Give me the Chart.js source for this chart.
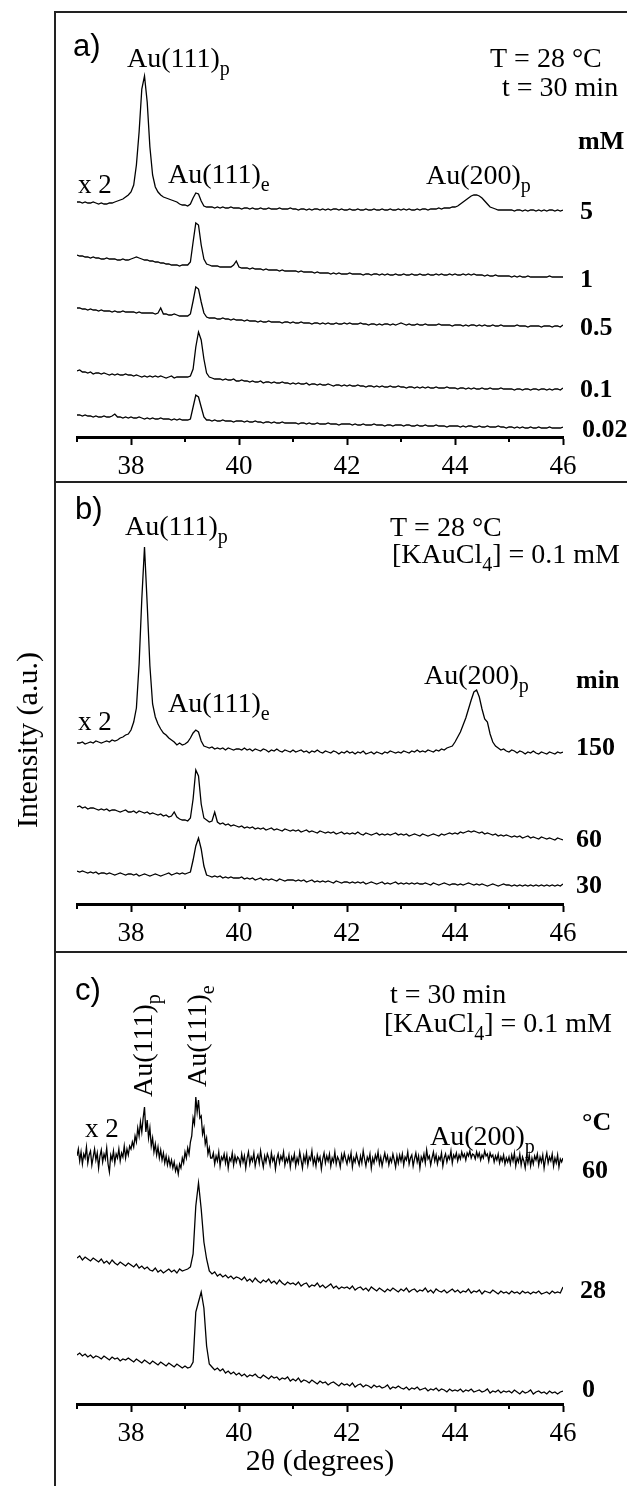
<!DOCTYPE html>
<html>
<head>
<meta charset="utf-8">
<script src="https://cdn.jsdelivr.net/npm/chart.js@4.4.1/dist/chart.umd.min.js"></script>
<style>
  body { margin: 0; background: #fff; }
  #page { position: relative; width: 627px; height: 1486px; overflow: hidden; background: #fff; }
  canvas { position: absolute; left: 0; }
  .rule { position: absolute; background: #222; }
</style>
</head>
<body>
<div id="page">
  <canvas id="panelA" width="627" height="470" style="top:12px"></canvas>
  <canvas id="panelB" width="627" height="470" style="top:482px"></canvas>
  <canvas id="panelC" width="627" height="534" style="top:952px"></canvas>
  <div class="rule" style="left:54px;top:11px;width:2px;height:1475px"></div>
  <div class="rule" style="left:54px;top:11px;width:573px;height:2px"></div>
  <div class="rule" style="left:54px;top:481px;width:573px;height:2px"></div>
  <div class="rule" style="left:54px;top:951px;width:573px;height:2px"></div>
</div>
<script>
// 2theta scan grid (degrees)
const twoTheta = [
  37, 37.05, 37.1, 37.15, 37.2, 37.25, 37.3, 37.35, 37.4, 37.45, 37.5, 37.55, 37.6, 37.65, 37.7, 37.75, 37.8, 37.85, 37.9, 37.95,
  38, 38.05, 38.1, 38.15, 38.2, 38.25, 38.3, 38.35, 38.4, 38.45, 38.5, 38.55, 38.6, 38.65, 38.7, 38.75, 38.8, 38.85, 38.9, 38.95,
  39, 39.05, 39.1, 39.15, 39.2, 39.25, 39.3, 39.35, 39.4, 39.45, 39.5, 39.55, 39.6, 39.65, 39.7, 39.75, 39.8, 39.85, 39.9, 39.95,
  40, 40.05, 40.1, 40.15, 40.2, 40.25, 40.3, 40.35, 40.4, 40.45, 40.5, 40.55, 40.6, 40.65, 40.7, 40.75, 40.8, 40.85, 40.9, 40.95,
  41, 41.05, 41.1, 41.15, 41.2, 41.25, 41.3, 41.35, 41.4, 41.45, 41.5, 41.55, 41.6, 41.65, 41.7, 41.75, 41.8, 41.85, 41.9, 41.95,
  42, 42.05, 42.1, 42.15, 42.2, 42.25, 42.3, 42.35, 42.4, 42.45, 42.5, 42.55, 42.6, 42.65, 42.7, 42.75, 42.8, 42.85, 42.9, 42.95,
  43, 43.05, 43.1, 43.15, 43.2, 43.25, 43.3, 43.35, 43.4, 43.45, 43.5, 43.55, 43.6, 43.65, 43.7, 43.75, 43.8, 43.85, 43.9, 43.95,
  44, 44.05, 44.1, 44.15, 44.2, 44.25, 44.3, 44.35, 44.4, 44.45, 44.5, 44.55, 44.6, 44.65, 44.7, 44.75, 44.8, 44.85, 44.9, 44.95,
  45, 45.05, 45.1, 45.15, 45.2, 45.25, 45.3, 45.35, 45.4, 45.45, 45.5, 45.55, 45.6, 45.65, 45.7, 45.75, 45.8, 45.85, 45.9, 45.95, 46
];
// finer grid used by the noisy 60 °C scan
const twoThetaFine = [
  37, 37.025, 37.05, 37.075, 37.1, 37.125, 37.15, 37.175, 37.2, 37.225, 37.25, 37.275, 37.3, 37.325, 37.35, 37.375, 37.4, 37.425, 37.45, 37.475,
  37.5, 37.525, 37.55, 37.575, 37.6, 37.625, 37.65, 37.675, 37.7, 37.725, 37.75, 37.775, 37.8, 37.825, 37.85, 37.875, 37.9, 37.925, 37.95, 37.975,
  38, 38.025, 38.05, 38.075, 38.1, 38.125, 38.15, 38.175, 38.2, 38.225, 38.25, 38.275, 38.3, 38.325, 38.35, 38.375, 38.4, 38.425, 38.45, 38.475,
  38.5, 38.525, 38.55, 38.575, 38.6, 38.625, 38.65, 38.675, 38.7, 38.725, 38.75, 38.775, 38.8, 38.825, 38.85, 38.875, 38.9, 38.925, 38.95, 38.975,
  39, 39.025, 39.05, 39.075, 39.1, 39.125, 39.15, 39.175, 39.2, 39.225, 39.25, 39.275, 39.3, 39.325, 39.35, 39.375, 39.4, 39.425, 39.45, 39.475,
  39.5, 39.525, 39.55, 39.575, 39.6, 39.625, 39.65, 39.675, 39.7, 39.725, 39.75, 39.775, 39.8, 39.825, 39.85, 39.875, 39.9, 39.925, 39.95, 39.975,
  40, 40.025, 40.05, 40.075, 40.1, 40.125, 40.15, 40.175, 40.2, 40.225, 40.25, 40.275, 40.3, 40.325, 40.35, 40.375, 40.4, 40.425, 40.45, 40.475,
  40.5, 40.525, 40.55, 40.575, 40.6, 40.625, 40.65, 40.675, 40.7, 40.725, 40.75, 40.775, 40.8, 40.825, 40.85, 40.875, 40.9, 40.925, 40.95, 40.975,
  41, 41.025, 41.05, 41.075, 41.1, 41.125, 41.15, 41.175, 41.2, 41.225, 41.25, 41.275, 41.3, 41.325, 41.35, 41.375, 41.4, 41.425, 41.45, 41.475,
  41.5, 41.525, 41.55, 41.575, 41.6, 41.625, 41.65, 41.675, 41.7, 41.725, 41.75, 41.775, 41.8, 41.825, 41.85, 41.875, 41.9, 41.925, 41.95, 41.975,
  42, 42.025, 42.05, 42.075, 42.1, 42.125, 42.15, 42.175, 42.2, 42.225, 42.25, 42.275, 42.3, 42.325, 42.35, 42.375, 42.4, 42.425, 42.45, 42.475,
  42.5, 42.525, 42.55, 42.575, 42.6, 42.625, 42.65, 42.675, 42.7, 42.725, 42.75, 42.775, 42.8, 42.825, 42.85, 42.875, 42.9, 42.925, 42.95, 42.975,
  43, 43.025, 43.05, 43.075, 43.1, 43.125, 43.15, 43.175, 43.2, 43.225, 43.25, 43.275, 43.3, 43.325, 43.35, 43.375, 43.4, 43.425, 43.45, 43.475,
  43.5, 43.525, 43.55, 43.575, 43.6, 43.625, 43.65, 43.675, 43.7, 43.725, 43.75, 43.775, 43.8, 43.825, 43.85, 43.875, 43.9, 43.925, 43.95, 43.975,
  44, 44.025, 44.05, 44.075, 44.1, 44.125, 44.15, 44.175, 44.2, 44.225, 44.25, 44.275, 44.3, 44.325, 44.35, 44.375, 44.4, 44.425, 44.45, 44.475,
  44.5, 44.525, 44.55, 44.575, 44.6, 44.625, 44.65, 44.675, 44.7, 44.725, 44.75, 44.775, 44.8, 44.825, 44.85, 44.875, 44.9, 44.925, 44.95, 44.975,
  45, 45.025, 45.05, 45.075, 45.1, 45.125, 45.15, 45.175, 45.2, 45.225, 45.25, 45.275, 45.3, 45.325, 45.35, 45.375, 45.4, 45.425, 45.45, 45.475,
  45.5, 45.525, 45.55, 45.575, 45.6, 45.625, 45.65, 45.675, 45.7, 45.725, 45.75, 45.775, 45.8, 45.825, 45.85, 45.875, 45.9, 45.925, 45.95, 45.975, 46
];
const majorTicks = [38, 40, 42, 44, 46];
const minorTicks = [37, 39, 41, 43, 45];

// a) KAuCl4 concentration series (mM), intensity a.u. incl. stacking offset
const concLabels = ['5', '1', '0.5', '0.1', '0.02'];
const conc5 = [
  235, 235, 234, 235, 234, 234, 235, 234, 233, 234, 233, 233, 234, 234, 235, 236, 237, 238, 240, 242,
  245, 252, 272, 305, 348, 361, 335, 290, 262, 250, 245, 242, 240, 239, 238, 237, 236, 235, 233, 232,
  232, 231, 233, 239, 244, 243, 236, 231, 230, 230, 230, 229, 230, 229, 230, 229, 229, 230, 229, 229,
  229, 228, 229, 229, 228, 229, 228, 228, 229, 228, 228, 229, 228, 228, 228, 229, 228, 228, 228, 229,
  228, 228, 227, 228, 228, 227, 228, 227, 228, 228, 227, 228, 227, 228, 227, 228, 228, 227, 228, 227,
  227, 228, 227, 227, 228, 227, 227, 228, 227, 227, 228, 227, 227, 228, 227, 227, 228, 227, 227, 228,
  227, 228, 227, 228, 227, 227, 228, 227, 228, 228, 227, 228, 228, 228, 229, 228, 229, 229, 229, 230,
  230, 231, 233, 235, 237, 239, 241, 242, 242, 241, 239, 236, 233, 230, 229, 228, 227, 227, 227, 227,
  227, 227, 226, 227, 227, 226, 227, 226, 227, 227, 226, 227, 226, 227, 226, 227, 227, 226, 227, 226, 227
];
const conc1 = [
  182, 181, 181, 180, 180, 179, 180, 179, 179, 178, 178, 179, 178, 178, 178, 177, 177, 178, 177, 177,
  178, 179, 180, 179, 178, 177, 177, 176, 176, 175, 175, 174, 174, 173, 173, 172, 172, 172, 171, 172,
  172, 172, 175, 195, 214, 212, 192, 178, 173, 172, 171, 171, 171, 170, 170, 170, 170, 170, 172, 176,
  170, 169, 169, 169, 168, 169, 168, 168, 168, 167, 168, 167, 167, 167, 167, 166, 167, 166, 166, 166,
  166, 166, 165, 166, 165, 165, 165, 165, 164, 165, 164, 164, 164, 164, 163, 164, 163, 164, 163, 163,
  163, 164, 163, 163, 163, 163, 162, 163, 163, 162, 163, 163, 162, 163, 162, 163, 162, 162, 163, 162,
  162, 163, 162, 162, 163, 162, 162, 163, 162, 162, 163, 162, 162, 163, 162, 163, 162, 162, 163, 162,
  163, 162, 162, 163, 162, 163, 162, 163, 162, 162, 162, 161, 162, 161, 161, 162, 161, 161, 161, 161,
  161, 160, 161, 160, 161, 160, 160, 161, 160, 160, 160, 160, 160, 160, 160, 161, 160, 160, 160, 160, 160
];
const conc05 = [
  129, 129, 128, 128, 127, 128, 127, 127, 126, 127, 126, 126, 126, 125, 126, 125, 125, 126, 125, 125,
  125, 125, 124, 125, 124, 124, 124, 124, 124, 123, 124, 129, 123, 123, 122, 122, 123, 122, 121, 121,
  121, 121, 123, 136, 150, 148, 135, 124, 120, 119, 119, 119, 118, 118, 119, 118, 118, 117, 118, 117,
  117, 117, 116, 117, 116, 116, 116, 115, 116, 115, 115, 116, 115, 115, 115, 115, 114, 115, 115, 114,
  115, 114, 114, 115, 114, 114, 114, 113, 114, 114, 113, 114, 113, 114, 113, 113, 114, 113, 113, 114,
  113, 114, 113, 113, 113, 114, 113, 113, 112, 113, 113, 112, 113, 112, 113, 113, 112, 113, 112, 113,
  114, 113, 112, 113, 112, 112, 113, 112, 112, 113, 112, 112, 112, 112, 113, 112, 112, 112, 112, 111,
  112, 112, 112, 111, 112, 111, 112, 112, 111, 112, 111, 112, 111, 111, 112, 111, 111, 112, 111, 111,
  111, 111, 111, 112, 111, 111, 111, 110, 111, 111, 111, 111, 110, 111, 111, 111, 110, 111, 111, 110, 112
];
const conc01 = [
  66, 67, 65, 65, 64, 65, 63, 64, 64, 63, 64, 63, 62, 63, 62, 63, 62, 62, 63, 62,
  62, 61, 62, 61, 60, 61, 60, 61, 60, 61, 60, 61, 60, 59, 60, 61, 59, 60, 60, 60,
  60, 60, 61, 68, 90, 105, 97, 78, 64, 60, 59, 58, 58, 58, 57, 58, 57, 57, 58, 56,
  56, 57, 56, 56, 55, 56, 55, 55, 56, 54, 55, 55, 54, 55, 54, 54, 55, 54, 54, 53,
  54, 53, 54, 53, 53, 54, 52, 53, 53, 52, 53, 52, 52, 53, 52, 51, 52, 52, 51, 52,
  51, 52, 51, 51, 52, 51, 51, 50, 51, 51, 50, 51, 50, 51, 50, 50, 51, 50, 50, 51,
  50, 50, 49, 50, 50, 49, 50, 49, 50, 49, 50, 49, 49, 50, 49, 49, 49, 50, 49, 49,
  49, 48, 49, 49, 48, 49, 48, 49, 48, 48, 49, 48, 48, 49, 48, 48, 48, 49, 48, 48,
  48, 48, 47, 48, 48, 47, 48, 48, 47, 48, 48, 47, 48, 48, 47, 48, 47, 48, 48, 47, 49
];
const conc002 = [
  22, 22, 21, 22, 21, 21, 20, 21, 20, 20, 21, 20, 20, 21, 23, 20, 20, 19, 20, 19,
  20, 19, 19, 20, 19, 18, 19, 18, 19, 18, 18, 19, 18, 18, 18, 17, 18, 17, 18, 17,
  17, 17, 18, 30, 42, 40, 30, 20, 17, 17, 16, 17, 16, 16, 17, 16, 16, 16, 15, 16,
  16, 16, 15, 16, 15, 15, 16, 15, 15, 14, 15, 15, 14, 15, 14, 14, 15, 14, 14, 14,
  14, 14, 13, 14, 14, 13, 14, 13, 13, 14, 13, 13, 13, 14, 13, 13, 13, 12, 13, 13,
  13, 13, 12, 13, 12, 12, 13, 12, 12, 12, 13, 12, 12, 12, 11, 12, 12, 11, 12, 12,
  12, 11, 12, 12, 11, 11, 12, 11, 11, 12, 11, 11, 11, 12, 11, 11, 11, 10, 11, 11,
  11, 11, 10, 11, 10, 11, 11, 10, 10, 11, 10, 10, 11, 10, 10, 10, 11, 10, 10, 9,
  10, 10, 9, 10, 9, 10, 9, 9, 10, 9, 9, 10, 9, 9, 9, 10, 9, 9, 9, 9, 10
];

// b) deposition time series (min)
const timeLabels = ['150', '60', '30'];
const time150 = [
  161, 161, 162, 160, 161, 162, 161, 163, 162, 161, 162, 163, 162, 164, 163, 164, 166, 167, 169, 170,
  174, 182, 196, 240, 305, 357, 300, 238, 200, 187, 180, 175, 171, 169, 166, 164, 162, 159, 161, 159,
  160, 162, 166, 171, 174, 172, 163, 158, 157, 156, 157, 155, 156, 155, 156, 154, 156, 155, 154, 155,
  155, 154, 156, 154, 155, 153, 155, 154, 153, 155, 154, 152, 154, 153, 155, 153, 152, 154, 153, 152,
  154, 152, 153, 154, 152, 153, 151, 153, 152, 154, 152, 151, 153, 152, 151, 153, 152, 150, 152, 151,
  153, 151, 152, 150, 152, 151, 153, 150, 151, 152, 150, 152, 151, 150, 152, 151, 153, 152, 151, 152,
  151, 153, 152, 151, 153, 152, 154, 152, 153, 152, 154, 153, 152, 154, 153, 155, 154, 156, 157, 158,
  162, 167, 172, 179, 186, 195, 204, 212, 214, 207, 195, 185, 182, 170, 162, 158, 156, 154, 155, 153,
  152, 154, 153, 151, 153, 152, 150, 152, 151, 153, 151, 150, 152, 151, 150, 152, 151, 150, 152, 151, 152
];
const time60 = [
  97, 98, 96, 97, 95, 96, 96, 95, 94, 95, 94, 95, 93, 94, 94, 93, 92, 93, 94, 92,
  92, 93, 91, 93, 92, 91, 92, 90, 91, 90, 89, 90, 88, 89, 87, 88, 92, 87, 85, 84,
  84, 83, 86, 105, 134, 128, 100, 86, 84, 82, 83, 92, 82, 80, 81, 79, 80, 78, 79, 78,
  77, 78, 76, 77, 76, 77, 75, 76, 75, 76, 74, 75, 76, 74, 75, 74, 73, 75, 74, 73,
  74, 73, 74, 72, 73, 74, 72, 73, 72, 71, 73, 72, 71, 72, 71, 72, 70, 71, 72, 70,
  71, 70, 71, 70, 72, 70, 69, 71, 70, 69, 70, 71, 69, 70, 69, 70, 69, 70, 71, 69,
  70, 69, 70, 68, 69, 70, 69, 68, 70, 69, 68, 69, 70, 69, 68, 70, 69, 70, 71, 70,
  71, 70, 72, 71, 72, 73, 72, 73, 72, 71, 72, 70, 71, 70, 69, 70, 68, 69, 68, 69,
  68, 67, 68, 67, 68, 66, 67, 68, 66, 67, 66, 65, 67, 66, 65, 66, 65, 64, 66, 65, 64
];
const time30 = [
  33, 32, 33, 32, 31, 32, 31, 32, 30, 31, 31, 30, 31, 30, 29, 30, 31, 30, 29, 30,
  30, 29, 30, 28, 29, 30, 29, 28, 29, 30, 29, 28, 29, 30, 31, 29, 30, 31, 30, 31,
  30, 31, 32, 44, 58, 66, 55, 38, 29, 28, 27, 28, 27, 28, 26, 27, 26, 27, 26, 26,
  26, 27, 25, 26, 25, 26, 24, 25, 26, 24, 25, 24, 25, 24, 23, 25, 24, 23, 24, 24,
  24, 23, 24, 23, 24, 22, 23, 24, 22, 23, 22, 23, 22, 23, 22, 21, 23, 22, 21, 22,
  22, 21, 22, 21, 22, 21, 22, 20, 21, 22, 21, 20, 21, 22, 20, 21, 20, 21, 22, 20,
  21, 20, 21, 20, 21, 20, 21, 20, 20, 21, 20, 19, 21, 20, 19, 20, 21, 20, 19, 20,
  20, 19, 20, 19, 20, 21, 20, 19, 20, 19, 20, 19, 18, 19, 20, 19, 18, 19, 20, 19,
  19, 18, 19, 18, 19, 18, 19, 18, 19, 18, 19, 18, 19, 18, 19, 18, 19, 18, 19, 18, 20
];

// c) bath temperature series (°C); the 60 °C scan is on the fine grid
const tempLabels = ['60', '28', '0'];
const temp60 = [
  248, 255, 243, 252, 240, 250, 246, 257, 241, 249, 253, 239, 247, 255, 244, 251, 236, 248, 254, 242,
  250, 245, 256, 240, 232, 249, 244, 253, 241, 250, 246, 255, 243, 251, 247, 258, 246, 255, 249, 258,
  255, 262, 257, 268, 262, 276, 268, 282, 272, 286, 297, 272, 284, 266, 276, 258, 266, 252, 260, 249,
  257, 246, 254, 244, 251, 241, 248, 239, 246, 238, 244, 236, 242, 233, 238, 230, 240, 236, 246, 241,
  252, 246, 256, 250, 262, 268, 286, 280, 307, 292, 304, 286, 288, 270, 276, 260, 266, 250, 256, 246,
  246, 251, 240, 248, 243, 252, 238, 247, 244, 250, 241, 249, 236, 246, 243, 251, 239, 248, 242, 247,
  245, 239, 250, 242, 248, 236, 246, 252, 240, 247, 243, 251, 238, 245, 249, 241, 253, 244, 237, 248,
  242, 250, 246, 239, 251, 243, 247, 235, 245, 250, 241, 248, 244, 252, 239, 246, 242, 249, 237, 247,
  243, 250, 238, 246, 241, 252, 244, 236, 248, 242, 251, 239, 247, 244, 253, 240, 246, 238, 249, 243,
  247, 235, 245, 251, 241, 248, 243, 250, 238, 246, 242, 252, 240, 247, 244, 237, 249, 243, 251, 245,
  240, 248, 243, 251, 237, 246, 242, 250, 244, 239, 248, 241, 253, 245, 238, 247, 243, 250, 236, 246,
  241, 249, 244, 252, 240, 247, 238, 245, 251, 243, 248, 239, 246, 242, 250, 244, 237, 248, 241, 249,
  243, 250, 239, 247, 244, 252, 240, 246, 249, 238, 245, 251, 242, 248, 236, 247, 243, 250, 241, 254,
  245, 248, 239, 246, 252, 243, 249, 240, 247, 244, 251, 238, 246, 250, 242, 248, 245, 253, 241, 249,
  246, 251, 243, 249, 245, 252, 247, 250, 244, 251, 248, 253, 246, 250, 249, 245, 252, 247, 251, 244,
  249, 246, 253, 248, 250, 243, 251, 247, 249, 242, 248, 244, 250, 241, 247, 243, 249, 240, 246, 242,
  247, 240, 249, 243, 251, 238, 246, 242, 250, 239, 247, 243, 236, 248, 241, 249, 238, 246, 240, 248,
  244, 250, 239, 247, 242, 249, 236, 245, 251, 241, 247, 243, 250, 238, 246, 241, 249, 237, 245, 242, 246
];
const temp28 = [
  146, 148, 144, 147, 145, 143, 146, 144, 142, 145, 141, 143, 140, 144, 141, 139, 142, 140, 138, 141,
  139, 137, 140, 136, 138, 135, 137, 134, 133, 136, 132, 134, 131, 133, 135, 132, 134, 131, 135, 133,
  134, 135, 137, 150, 198, 221, 195, 162, 145, 133, 130, 132, 128, 130, 127, 129, 126, 128, 125, 127,
  126, 124, 127, 123, 125, 122, 126, 123, 121, 124, 122, 125, 121, 123, 120, 124, 121, 119, 122, 120,
  121, 119, 122, 118, 120, 121, 117, 119, 118, 121, 117, 119, 116, 118, 120, 116, 118, 115, 117, 116,
  117, 115, 118, 114, 116, 117, 114, 116, 113, 117, 115, 113, 116, 114, 112, 115, 113, 116, 114, 112,
  115, 113, 116, 112, 114, 115, 112, 114, 113, 116, 112, 114, 111, 115, 113, 112, 114, 111, 113, 115,
  112, 114, 111, 113, 112, 115, 111, 113, 112, 114, 110, 113, 112, 111, 114, 112, 110, 113, 111, 112,
  110, 113, 111, 112, 110, 113, 111, 112, 110, 112, 111, 113, 110, 111, 112, 110, 113, 111, 112, 111, 117
];
const temp0 = [
  49, 51, 48, 50, 47, 49, 46, 48, 47, 45, 48, 46, 44, 47, 45, 46, 43, 45, 44, 46,
  44, 42, 45, 43, 41, 44, 42, 40, 43, 41, 39, 42, 40, 38, 41, 39, 37, 40, 38, 36,
  38, 36, 37, 42, 92, 102, 112, 96, 58, 40, 37, 34, 36, 33, 35, 31, 33, 30, 32, 29,
  31, 28, 30, 27, 29, 28, 30, 27, 26, 29, 27, 25, 28, 26, 27, 24, 26, 25, 27, 23,
  25, 23, 26, 22, 24, 23, 21, 24, 22, 20, 23, 21, 22, 19, 21, 22, 20, 18, 21, 19,
  20, 18, 21, 17, 19, 20, 17, 19, 18, 16, 19, 17, 18, 16, 17, 19, 15, 17, 16, 18,
  16, 15, 17, 14, 16, 15, 17, 14, 15, 16, 13, 15, 14, 16, 13, 15, 14, 12, 15, 13,
  14, 13, 15, 12, 14, 13, 15, 12, 13, 14, 12, 13, 15, 11, 13, 12, 14, 11, 13, 12,
  13, 11, 14, 12, 10, 13, 11, 12, 14, 10, 12, 13, 11, 12, 10, 13, 11, 12, 10, 12, 13
];

const serif = '"Liberation Serif", "Times New Roman", serif';
const sans = '"Liberation Sans", Arial, sans-serif';

// text with "_x" meaning subscript x
function richParts(text) {
  const out = [];
  text.split('_').forEach((part, k) => {
    if (k > 0) {
      out.push({ t: part[0], sub: true });
      part = part.slice(1);
    }
    if (part) out.push({ t: part, sub: false });
  });
  return out;
}

function drawRich(ctx, n, top) {
  const size = n.size || 28;
  const fam = n.sans ? sans : serif;
  const weight = n.bold ? 'bold ' : '';
  const parts = richParts(n.text);
  const fontFor = p => weight + (p.sub ? Math.round(size * 0.7) : size) + 'px ' + fam;
  let width = 0;
  parts.forEach(p => { ctx.font = fontFor(p); width += ctx.measureText(p.t).width; });
  ctx.save();
  ctx.translate(n.x, n.y - top);
  if (n.rotate) ctx.rotate(n.rotate);
  ctx.fillStyle = '#000';
  ctx.textBaseline = 'alphabetic';
  ctx.textAlign = 'left';
  let cx = n.center ? -width / 2 : 0;
  parts.forEach(p => {
    ctx.font = fontFor(p);
    ctx.fillText(p.t, cx, p.sub ? size * 0.27 : 0);
    cx += ctx.measureText(p.t).width;
  });
  ctx.restore();
}

const annotate = {
  id: 'annotate',
  afterDraw(chart, args, opts) {
    const ctx = chart.ctx;
    const xs = chart.scales.x;
    ctx.save();
    ctx.strokeStyle = '#000';
    ctx.lineWidth = 2;
    minorTicks.forEach(v => {
      const px = Math.round(xs.getPixelForValue(v));
      ctx.beginPath();
      ctx.moveTo(px, xs.top);
      ctx.lineTo(px, xs.top + 5);
      ctx.stroke();
    });
    ctx.restore();
    opts.notes.forEach(n => drawRich(ctx, n, opts.top));
  }
};

// series: list of [xGrid, yValues]
function plotPanel(id, top, height, axisY, series, notes) {
  const yMax = axisY - top;
  const axisH = height - yMax;
  return new Chart(document.getElementById(id), {
    type: 'line',
    data: {
      datasets: series.map(([xs, ys]) => ({
        data: xs.map((x, i) => ({ x: x, y: ys[i] })),
        borderColor: '#000',
        borderWidth: 1.3,
        pointRadius: 0,
        tension: 0,
        fill: false
      }))
    },
    options: {
      responsive: false,
      animation: false,
      devicePixelRatio: 1,
      layout: { padding: { left: 77, right: 64, top: 0, bottom: 0 } },
      plugins: {
        legend: { display: false },
        tooltip: { enabled: false },
        annotate: { top: top, notes: notes }
      },
      scales: {
        x: {
          type: 'linear',
          min: 37,
          max: 46,
          afterBuildTicks: s => { s.ticks = majorTicks.map(v => ({ value: v })); },
          afterFit: s => { s.height = axisH; },
          grid: { display: true, drawOnChartArea: false, drawTicks: true, tickLength: 8, tickWidth: 2, tickColor: '#000' },
          border: { display: true, color: '#000', width: 3 },
          ticks: { color: '#000', padding: 6, autoSkip: false, maxRotation: 0, font: { family: serif, size: 27 } }
        },
        y: { display: false, min: 0, max: yMax }
      }
    },
    plugins: [annotate]
  });
}

const up = -Math.PI / 2;

plotPanel('panelA', 12, 470, 437,
  [[twoTheta, conc5], [twoTheta, conc1], [twoTheta, conc05], [twoTheta, conc01], [twoTheta, conc002]], [
  { text: 'a)', x: 73, y: 56, size: 31, sans: true },
  { text: 'Au(111)_p', x: 127, y: 67 },
  { text: 'T = 28 °C', x: 490, y: 67 },
  { text: 't = 30 min', x: 502, y: 96 },
  { text: 'mM', x: 578, y: 149, bold: true, size: 26 },
  { text: 'x 2', x: 78, y: 193, size: 27 },
  { text: 'Au(111)_e', x: 168, y: 183 },
  { text: 'Au(200)_p', x: 426, y: 184 },
  { text: concLabels[0], x: 580, y: 219, bold: true, size: 26 },
  { text: concLabels[1], x: 580, y: 287, bold: true, size: 26 },
  { text: concLabels[2], x: 580, y: 335, bold: true, size: 26 },
  { text: concLabels[3], x: 580, y: 397, bold: true, size: 26 },
  { text: concLabels[4], x: 582, y: 437, bold: true, size: 26 }
]);

plotPanel('panelB', 482, 470, 904,
  [[twoTheta, time150], [twoTheta, time60], [twoTheta, time30]], [
  { text: 'b)', x: 75, y: 519, size: 31, sans: true },
  { text: 'Au(111)_p', x: 125, y: 535 },
  { text: 'T = 28 °C', x: 390, y: 536 },
  { text: '[KAuCl_4] = 0.1 mM', x: 392, y: 563 },
  { text: 'Au(200)_p', x: 424, y: 684 },
  { text: 'min', x: 576, y: 688, bold: true, size: 26 },
  { text: 'x 2', x: 78, y: 730, size: 27 },
  { text: 'Au(111)_e', x: 168, y: 712 },
  { text: timeLabels[0], x: 576, y: 755, bold: true, size: 26 },
  { text: timeLabels[1], x: 576, y: 847, bold: true, size: 26 },
  { text: timeLabels[2], x: 576, y: 893, bold: true, size: 26 },
  { text: 'Intensity (a.u.)', x: 37, y: 740, size: 30, rotate: up, center: true }
]);

plotPanel('panelC', 952, 534, 1404,
  [[twoThetaFine, temp60], [twoTheta, temp28], [twoTheta, temp0]], [
  { text: 'c)', x: 75, y: 1000, size: 31, sans: true },
  { text: 't = 30 min', x: 390, y: 1003 },
  { text: '[KAuCl_4] = 0.1 mM', x: 384, y: 1032 },
  { text: 'Au(111)_p', x: 152, y: 1097, rotate: up },
  { text: 'Au(111)_e', x: 206, y: 1087, rotate: up },
  { text: '°C', x: 582, y: 1130, bold: true, size: 26 },
  { text: 'x 2', x: 85, y: 1137, size: 27 },
  { text: 'Au(200)_p', x: 430, y: 1145 },
  { text: tempLabels[0], x: 582, y: 1178, bold: true, size: 26 },
  { text: tempLabels[1], x: 580, y: 1298, bold: true, size: 26 },
  { text: tempLabels[2], x: 582, y: 1397, bold: true, size: 26 },
  { text: '2θ (degrees)', x: 320, y: 1470, size: 30, center: true }
]);
</script>
</body>
</html>
